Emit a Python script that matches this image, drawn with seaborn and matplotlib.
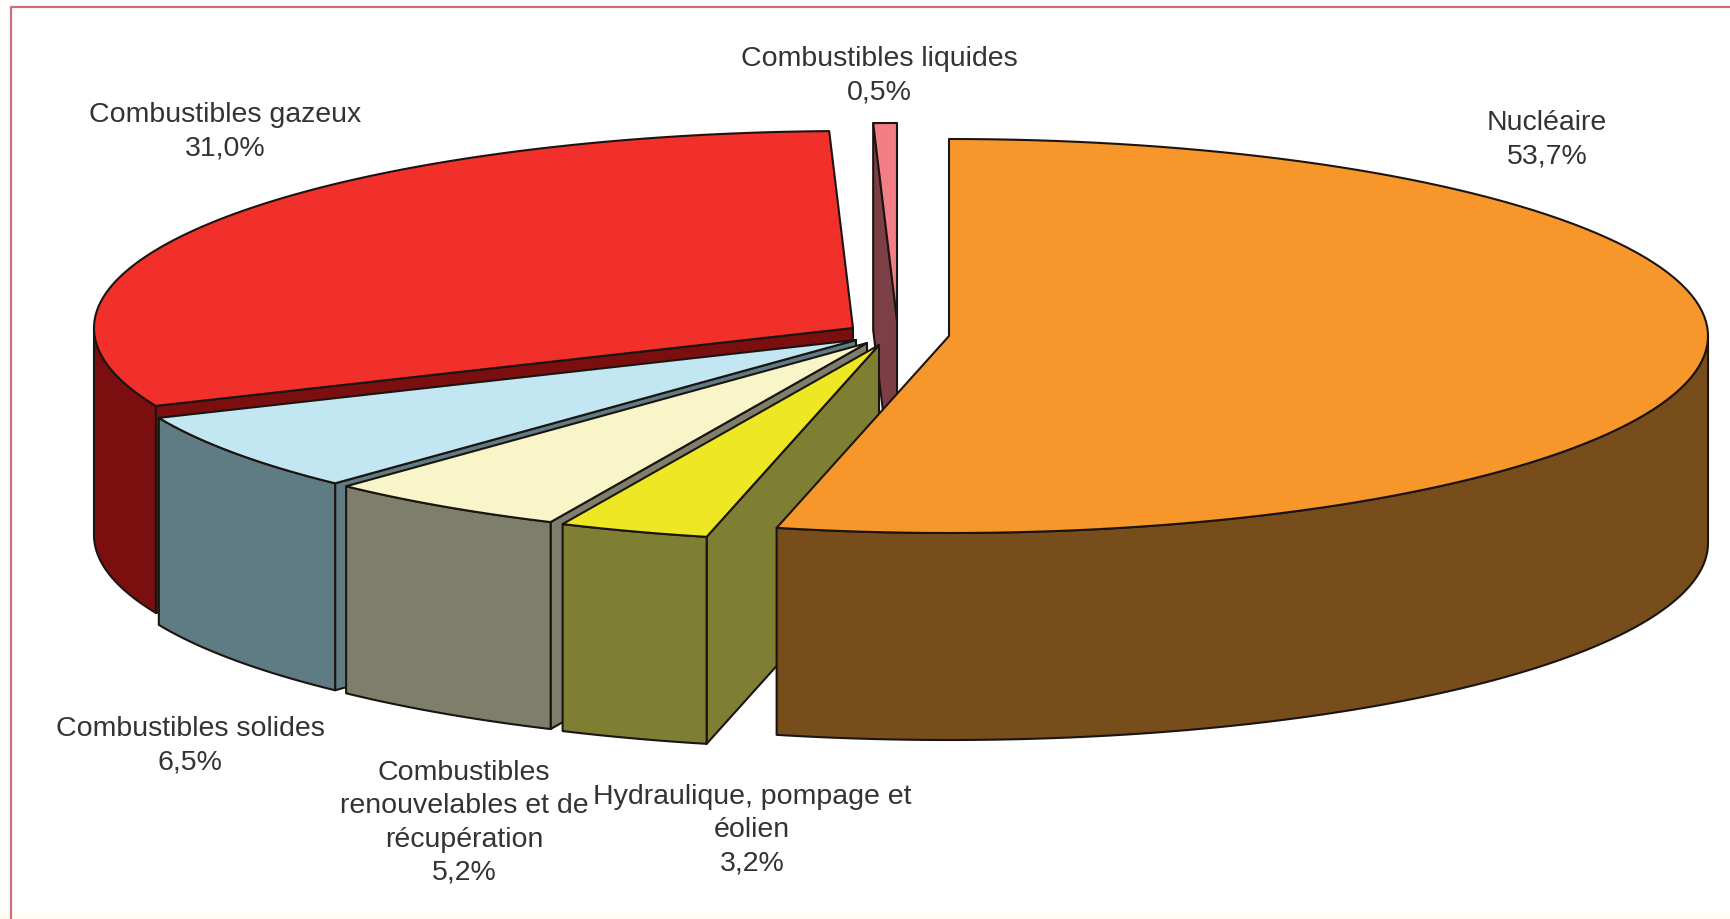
import numpy as np
import matplotlib.pyplot as plt
from matplotlib.patches import Polygon
import seaborn as sns

# share of each source, clockwise from 12 o'clock
sources = ['Nucléaire', 'Hydraulique, pompage et\néolien',
           'Combustibles\nrenouvelables et de\nrécupération',
           'Combustibles solides', 'Combustibles gazeux',
           'Combustibles liquides']
shares = [53.7, 3.2, 5.2, 6.5, 31.0, 0.5]

top_colors = ['#F7972B', '#EEE824', '#F8F6C8', '#C2E6F2', '#F1302B', '#F47E85']
side_colors = ['#774D1C', '#7E7F33', '#7D7F6B', '#5F7B83', '#7B0E0F', '#7C3F45']

# exploded centre of each slice and label centre, in figure pixels
centers = [(949, 336), (879, 345), (867, 343), (856, 340), (853, 328), (897, 320)]
label_pos = [(1547, 140), (752, 830), (464, 823), (190, 746), (225, 132), (879, 76)]

RX, RY, DEPTH = 759, 197, 207
OUTLINE = '#1c1410'


def rim(cx, cy, a0, a1, n=120):
    t = np.radians(np.linspace(a0, a1, n))
    return np.column_stack([cx + RX * np.sin(t), cy - RY * np.cos(t)])


def draw_slice(ax, center, a0, a1, top, side):
    cx, cy = center
    down = np.array([0, DEPTH])
    apex = np.array([[cx, cy]])
    # cut face on the start side, only seen when it turns to the viewer
    if 180 <= a0 < 360:
        edge = rim(cx, cy, a0, a0, 1)
        face = np.vstack([apex, edge, edge + down, apex + down])
        ax.add_patch(Polygon(face, fc=side, ec=OUTLINE, lw=1.5, joinstyle='round'))
    # front wall
    f0, f1 = max(a0, 90), min(a1, 270)
    if f1 > f0:
        arc = rim(cx, cy, f0, f1)
        ax.add_patch(Polygon(np.vstack([arc, arc[::-1] + down]),
                             fc=side, ec=OUTLINE, lw=1.5, joinstyle='round'))
    pts = np.vstack([apex, rim(cx, cy, a0, a1)])
    ax.add_patch(Polygon(pts, fc=top, ec=OUTLINE, lw=1.5, joinstyle='round'))


sns.set_theme(style='white')
plt.rcParams['font.family'] = ['Liberation Sans', 'DejaVu Sans']

fig = plt.figure(figsize=(17.31, 9.19), dpi=100)
ax = fig.add_axes([0, 0, 1, 1])
ax.set_xlim(0, 1731)
ax.set_ylim(919, 0)
ax.axis('off')

# page frame (left and top only) and cream strip at the foot
ax.plot([11, 11, 1731], [919, 7, 7], color='#C9707F', lw=1.6)
ax.axhspan(913, 919, color='#FDFBF2', lw=0, zorder=0)

edges = np.cumsum([0] + shares) * 360 / sum(shares)

# painter's order: back slices first, nuclear last
for i in [5, 4, 3, 2, 1, 0]:
    draw_slice(ax, centers[i], edges[i], edges[i + 1], top_colors[i], side_colors[i])

for name, share, (x, y) in zip(sources, shares, label_pos):
    text = name + '\n' + f'{share:.1f}%'.replace('.', ',')
    ax.text(x, y, text, ha='center', va='center', fontsize=20.5, color='#333333',
            linespacing=1.36)

fig.savefig('out.png', dpi=100)
